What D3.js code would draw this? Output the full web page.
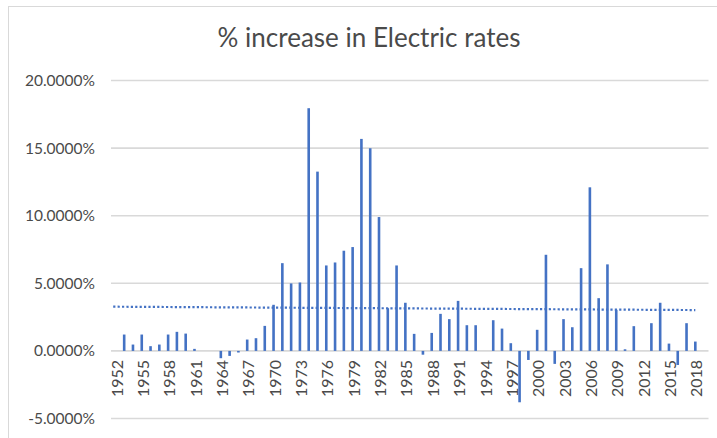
<!DOCTYPE html>
<html>
<head>
<meta charset="utf-8">
<script src="https://cdn.jsdelivr.net/npm/d3@7"></script>
<style>
  body { margin: 0; background: #fff; }
  text { font-family: Lato, "Open Sans", sans-serif; fill: #4a4a4a; }
</style>
</head>
<body>
<svg id="chart" width="717" height="438"></svg>
<script>
// Yearly percent increase in electric rates (null = no value for that year)
const years = [
  1952, 1953, 1954, 1955, 1956, 1957, 1958, 1959, 1960, 1961,
  1962, 1963, 1964, 1965, 1966, 1967, 1968, 1969, 1970, 1971,
  1972, 1973, 1974, 1975, 1976, 1977, 1978, 1979, 1980, 1981,
  1982, 1983, 1984, 1985, 1986, 1987, 1988, 1989, 1990, 1991,
  1992, 1993, 1994, 1995, 1996, 1997, 1998, 1999, 2000, 2001,
  2002, 2003, 2004, 2005, 2006, 2007, 2008, 2009, 2010, 2011,
  2012, 2013, 2014, 2015, 2016, 2017, 2018, 2019
];
const rateIncrease = [
  null, 1.21, 0.47, 1.21, 0.35, 0.47, 1.21, 1.41, 1.28, 0.15,
  0.00, 0.00, -0.54, -0.37, -0.12, 0.84, 0.94, 1.85, 3.41, 6.49,
  4.99, 5.06, 17.95, 13.26, 6.32, 6.54, 7.41, 7.68, 15.68, 14.99,
  9.90, 3.16, 6.32, 3.56, 1.26, -0.28, 1.33, 2.74, 2.35, 3.70,
  1.90, 1.90, 0.00, 2.27, 1.65, 0.57, -3.80, -0.67, 1.56, 7.11,
  -0.96, 2.35, 1.75, 6.12, 12.10, 3.90, 6.40, 3.04, 0.12, 1.83,
  0.00, 2.05, 3.56, 0.54, -1.04, 2.05, 0.69, null
];
// Linear trend of the series at its first and last year
const trendEnds = [3.27, 3.02];
// Axis ticks
const yTicks = [-5, 0, 5, 10, 15, 20];
const xTickYears = [1952, 1955, 1958, 1961, 1964, 1967, 1970, 1973, 1976, 1979,
  1982, 1985, 1988, 1991, 1994, 1997, 2000, 2003, 2006, 2009, 2012, 2015, 2018];

const blue = "#4472C4";
const grid = "#d9d9d9";
const svg = d3.select("#chart");

// chart frame
svg.append("rect")
  .attr("x", 8.5).attr("y", 6.5)
  .attr("width", 740).attr("height", 460)
  .attr("fill", "none").attr("stroke", grid).attr("stroke-width", 1);

const plot = { left: 111, right: 708.5, top: 80.5, bottom: 418.5 };

const x = d3.scaleBand().domain(years).range([plot.left, plot.right]).padding(0);
const y = d3.scaleLinear().domain([-5, 20]).range([plot.bottom, plot.top]);

// title
svg.append("text")
  .attr("x", 369).attr("y", 47)
  .attr("text-anchor", "middle")
  .style("font-size", "26px")
  .text("% increase in Electric rates");

// horizontal gridlines
svg.append("g").selectAll("line").data(yTicks).join("line")
  .attr("x1", plot.left).attr("x2", plot.right)
  .attr("y1", d => y(d)).attr("y2", d => y(d))
  .attr("stroke", grid).attr("stroke-width", 1.6);

// y axis labels
const yAxis = svg.append("g")
  .attr("transform", `translate(${plot.left},0)`)
  .call(d3.axisLeft(y).tickValues(yTicks).tickSize(0).tickPadding(16)
    .tickFormat(d => d.toFixed(4) + "%"));
yAxis.select(".domain").remove();
yAxis.selectAll("text").style("font-size", "15.5px").attr("fill", "#4a4a4a");

// bars
const barW = 2.6;
const rows = years.map((yr, i) => ({ year: yr, value: rateIncrease[i] }))
  .filter(d => d.value !== null && d.value !== 0);
svg.append("g").selectAll("rect").data(rows).join("rect")
  .attr("x", d => x(d.year) + x.bandwidth() / 2 - barW / 2)
  .attr("width", barW)
  .attr("y", d => y(Math.max(0, d.value)))
  .attr("height", d => Math.abs(y(d.value) - y(0)))
  .attr("fill", blue);

// x axis category labels along the zero line
const xAxis = svg.append("g")
  .attr("transform", `translate(0,${y(0)})`)
  .call(d3.axisBottom(x).tickValues(xTickYears).tickSize(0));
xAxis.select(".domain").remove();
xAxis.selectAll("text")
  .style("font-size", "16px")
  .attr("fill", "#4a4a4a")
  .attr("text-anchor", "end")
  .attr("transform", "rotate(-90)")
  .attr("x", -9).attr("y", 1.5).attr("dy", "0.35em");

// dotted linear trendline
const firstYear = years[0], lastYear = years[years.length - 2];
svg.append("line")
  .attr("x1", x(firstYear) + x.bandwidth() * 0.25)
  .attr("x2", x(lastYear) + x.bandwidth() * 0.5)
  .attr("y1", y(trendEnds[0]))
  .attr("y2", y(trendEnds[1]))
  .attr("stroke", blue)
  .attr("stroke-width", 2.2)
  .attr("stroke-dasharray", "2.2,2.2");
</script>
</body>
</html>
